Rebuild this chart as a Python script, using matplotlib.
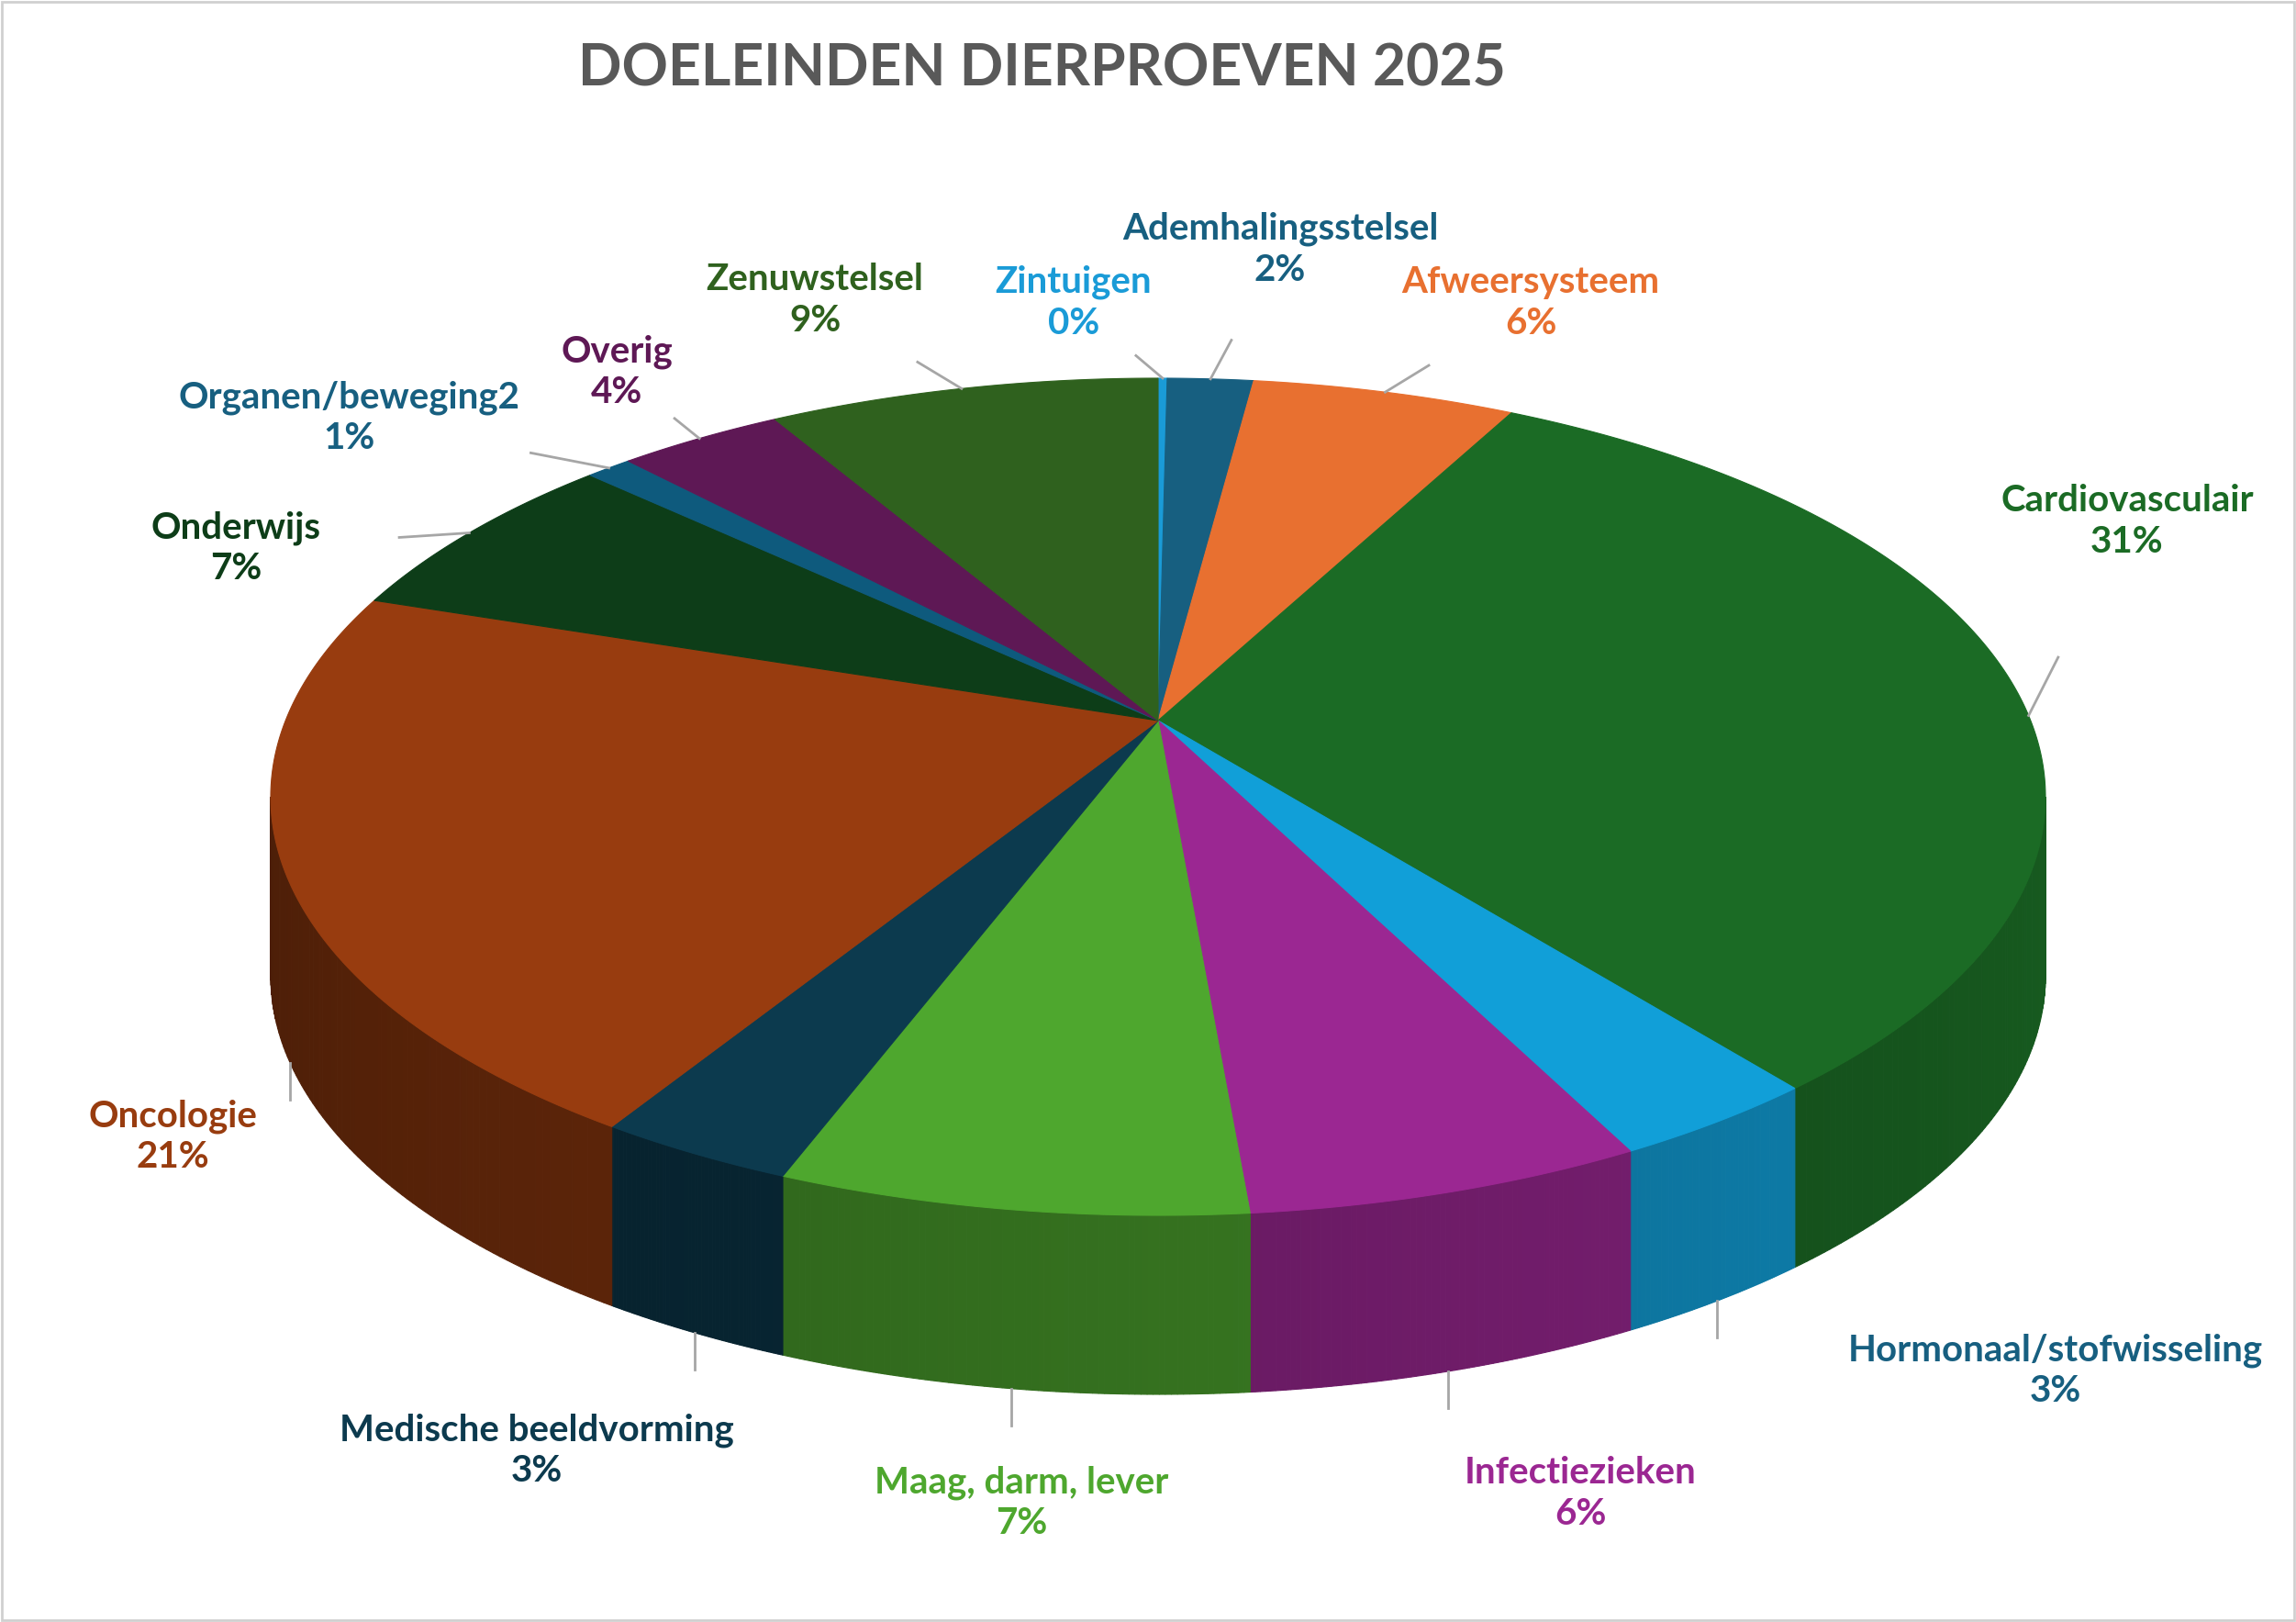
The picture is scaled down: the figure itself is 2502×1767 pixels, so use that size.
import numpy as np
import matplotlib.pyplot as plt
from matplotlib.patches import Polygon, Rectangle
from matplotlib.colors import to_rgb

plt.rcParams['font.family'] = ['Lato', 'DejaVu Sans']

# clockwise from 12 o'clock
categories = ["Zintuigen", "Ademhalingsstelsel", "Afweersysteem", "Cardiovasculair",
              "Hormonaal/stofwisseling", "Infectieziekten", "Maag, darm, lever",
              "Medische beeldvorming", "Oncologie", "Onderwijs", "Organen/beweging2",
              "Overig", "Zenuwstelsel"]
shares = [0.2, 1.9, 5.8, 31.2, 3.3, 6.2, 7.3, 3.1, 21.0, 6.8, 1.0, 3.6, 8.6]
colors = ["#1a9bd7", "#175f80", "#e87030", "#1b6b25", "#119fd8", "#9b2792", "#4ea72e",
          "#0c3a4e", "#983c0f", "#0d3d18", "#0e5a7d", "#5e1855", "#2f611e"]
text_colors = ["#1a9bd7", "#175f80", "#e87030", "#1b6b25", "#175f80", "#9b2792", "#4ea72e",
               "#0c3a4e", "#983c0f", "#0d3d18", "#175f80", "#5e1855", "#2f611e"]
# label centres in pixel coordinates
label_pos = [(1170, 330), (1395, 272), (1668, 330), (2318, 568), (2240, 1493),
             (1722, 1627), (1113, 1637), (585, 1580), (188, 1238), (257, 597),
             (380, 455), (672, 405), (888, 327)]
label_names = list(categories)
label_names[5] = "Infectiezieken"

W, H = 2502, 1767
cx, cy, rx, ry, depth = 1262, 868, 967, 456, 195
apex_y = 785

fig = plt.figure(figsize=(W / 100, H / 100), dpi=100)
ax = fig.add_axes([0, 0, 1, 1])
ax.set_xlim(0, W)
ax.set_ylim(H, 0)
ax.axis('off')
ax.add_patch(Rectangle((2, 2), W - 4, H - 4, fill=False, ec="#d0d0d0", lw=2))


def pt(phi, dy=0):
    return cx + rx * np.sin(phi), cy - ry * np.cos(phi) + dy


def ray_phi(t):
    # perspective: rays from a raised apex, returns ellipse parameter of the hit point
    v0 = (apex_y - cy) / ry
    d = np.array([np.sin(t), -np.cos(t)])
    p = np.array([0.0, v0])
    pd = p @ d
    s = -pd + np.sqrt(pd ** 2 - p @ p + 1)
    u, v = p + s * d
    return np.arctan2(u, -v) % (2 * np.pi)


def shade(c, f):
    return tuple(np.array(to_rgb(c)) * f)


bounds = np.concatenate([[0], np.cumsum(shares)]) / sum(shares) * 2 * np.pi
phis = [ray_phi(b) for b in bounds[:-1]] + [2 * np.pi]

# side walls (front half only)
for i in range(len(shares)):
    a0, a1 = max(phis[i], np.pi / 2), min(phis[i + 1], 3 * np.pi / 2)
    if a1 <= a0:
        continue
    ts = np.linspace(a0, a1, 80)
    for k in range(len(ts) - 1):
        t0, t1 = ts[k], ts[k + 1]
        f = 0.85 - 0.35 * ((t0 - np.pi / 2) / np.pi)
        quad = [pt(t0), pt(t1), pt(t1, depth), pt(t0, depth)]
        ax.add_patch(Polygon(quad, closed=True, fc=shade(colors[i], f),
                             ec=shade(colors[i], f), lw=0.8, zorder=2))

# top face
for i in range(len(shares)):
    ts = np.linspace(phis[i], phis[i + 1], 200)
    poly = [(cx, apex_y)] + [pt(t) for t in ts]
    ax.add_patch(Polygon(poly, closed=True, fc=colors[i], ec=colors[i], lw=0.8, zorder=3))

# labels with leader lines
for i, name in enumerate(label_names):
    lx, ly = label_pos[i]
    ax.text(lx, ly, f"{name}\n{round(shares[i])}%", ha='center', va='center',
            fontsize=29, fontweight='bold', color=text_colors[i], linespacing=1.25, zorder=5)
    pm = (phis[i] + phis[i + 1]) / 2
    front = np.pi / 2 < pm < 3 * np.pi / 2
    ex, ey = pt(pm, depth if front else 0)
    if front:
        sx, sy = ex, ey + 40
    else:
        sx, sy = ex + (lx - ex) * 0.3, ey + (ly - ey) * 0.3
    ax.plot([ex, sx], [ey, sy], color="#a6a6a6", lw=2, zorder=4)

ax.text(1135, 75, "DOELEINDEN DIERPROEVEN 2025", ha='center', va='center',
        fontsize=45, fontweight='bold', color="#595959")

fig.savefig("out.png", dpi=100)
